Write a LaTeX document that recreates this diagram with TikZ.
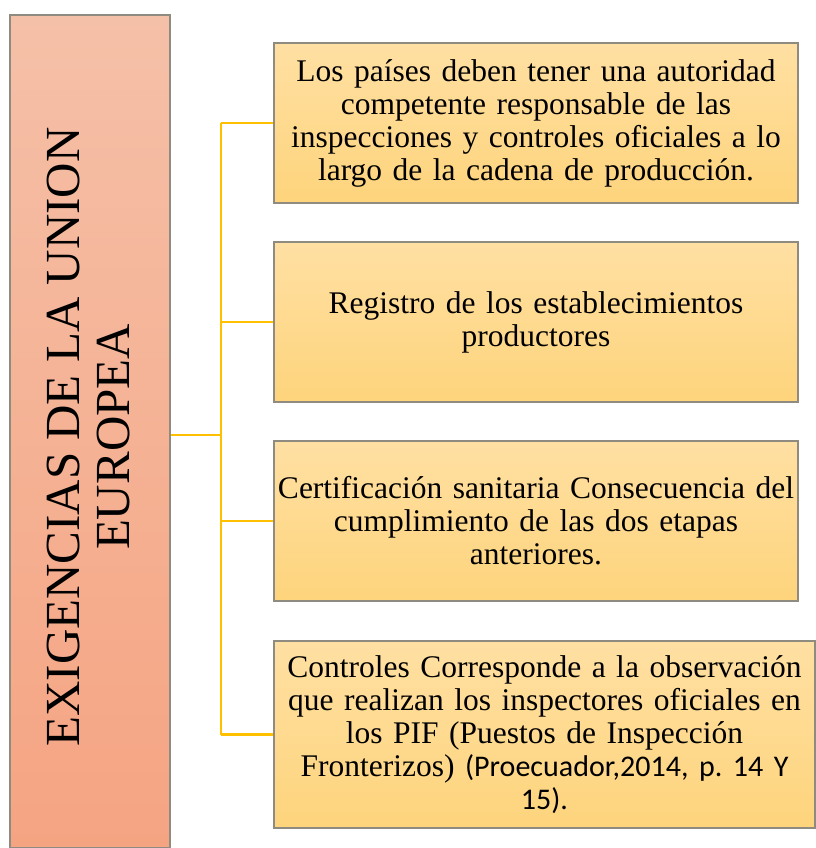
\documentclass[tikz,border=0pt]{standalone}
\usepackage{fontspec}
\setmainfont{Liberation Serif}
\newfontfamily\carlito{Carlito}
\frenchspacing
\definecolor{uepeachtop}{HTML}{F5C0A8}
\definecolor{uepeachbot}{HTML}{F5A482}
\definecolor{ueyellowtop}{HTML}{FFE0A3}
\definecolor{ueyellowbot}{HTML}{FED47C}
\definecolor{uegold}{HTML}{FFC000}
\definecolor{ueframe}{HTML}{8F8B80}
\newcommand\reqfont{\fontsize{31.5}{33}\selectfont\spaceskip=0.19em plus 0.1em minus 0.05em\relax\hyphenpenalty=10000\relax}

\begin{document}
\begin{tikzpicture}[x=1pt,y=-1pt,
  reqbox/.style={draw=ueframe,line width=1.3pt,top color=ueyellowtop,bottom color=ueyellowbot,
    inner ysep=0pt,inner xsep=-8pt,align=center,font=\reqfont},
  link/.style={uegold,line width=2.6pt}]
  \useasboundingbox (0,0) rectangle (815,848);
  % left column
  \node[draw=ueframe,line width=1.3pt,top color=uepeachtop,bottom color=uepeachbot,
    minimum width=160,minimum height=833,inner sep=0pt] (ue) at (90,431.5) {};
  \node[rotate=90,align=center,inner sep=0pt,font=\fontsize{49}{50}\selectfont] (uetitle) at (89,437)
    {EXIGENCIAS DE LA UNION\\EUROPEA};
  % requirement boxes
  \node[reqbox,minimum width=524,minimum height=160,text width=540] (r1) at (536,123)
    {Los países deben tener una autoridad\\competente responsable de las\\inspecciones y controles oficiales a lo\\largo de la cadena de producción.};
  \node[reqbox,minimum width=524,minimum height=160,text width=540] (r2) at (536,322)
    {Registro de los establecimientos\\productores};
  \node[reqbox,minimum width=524,minimum height=160,text width=540] (r3) at (536,521)
    {Certificación sanitaria Consecuencia del\\cumplimiento de las dos etapas\\anteriores.};
  \node[reqbox,minimum width=541,minimum height=187,text width=557] (r4) at (544.5,734.5)
    {Controles Corresponde a la observación\\que realizan los inspectores oficiales en\\los PIF (Puestos de Inspección\\Fronterizos) {\carlito\fontsize{30}{33}\selectfont (Proecuador,2014, p. 14 Y}\\{\carlito\fontsize{30}{33}\selectfont 15).}};
  % connectors
  \coordinate (hub) at (221,435);
  \draw[link] (ue.east |- hub) -- (hub);
  \draw[link] (hub |- r1.west) -- (hub |- r4.west);
  \foreach \r in {r1,r2,r3,r4}
    \draw[link] (hub |- \r.west) -- (\r.west);
\end{tikzpicture}
\end{document}
